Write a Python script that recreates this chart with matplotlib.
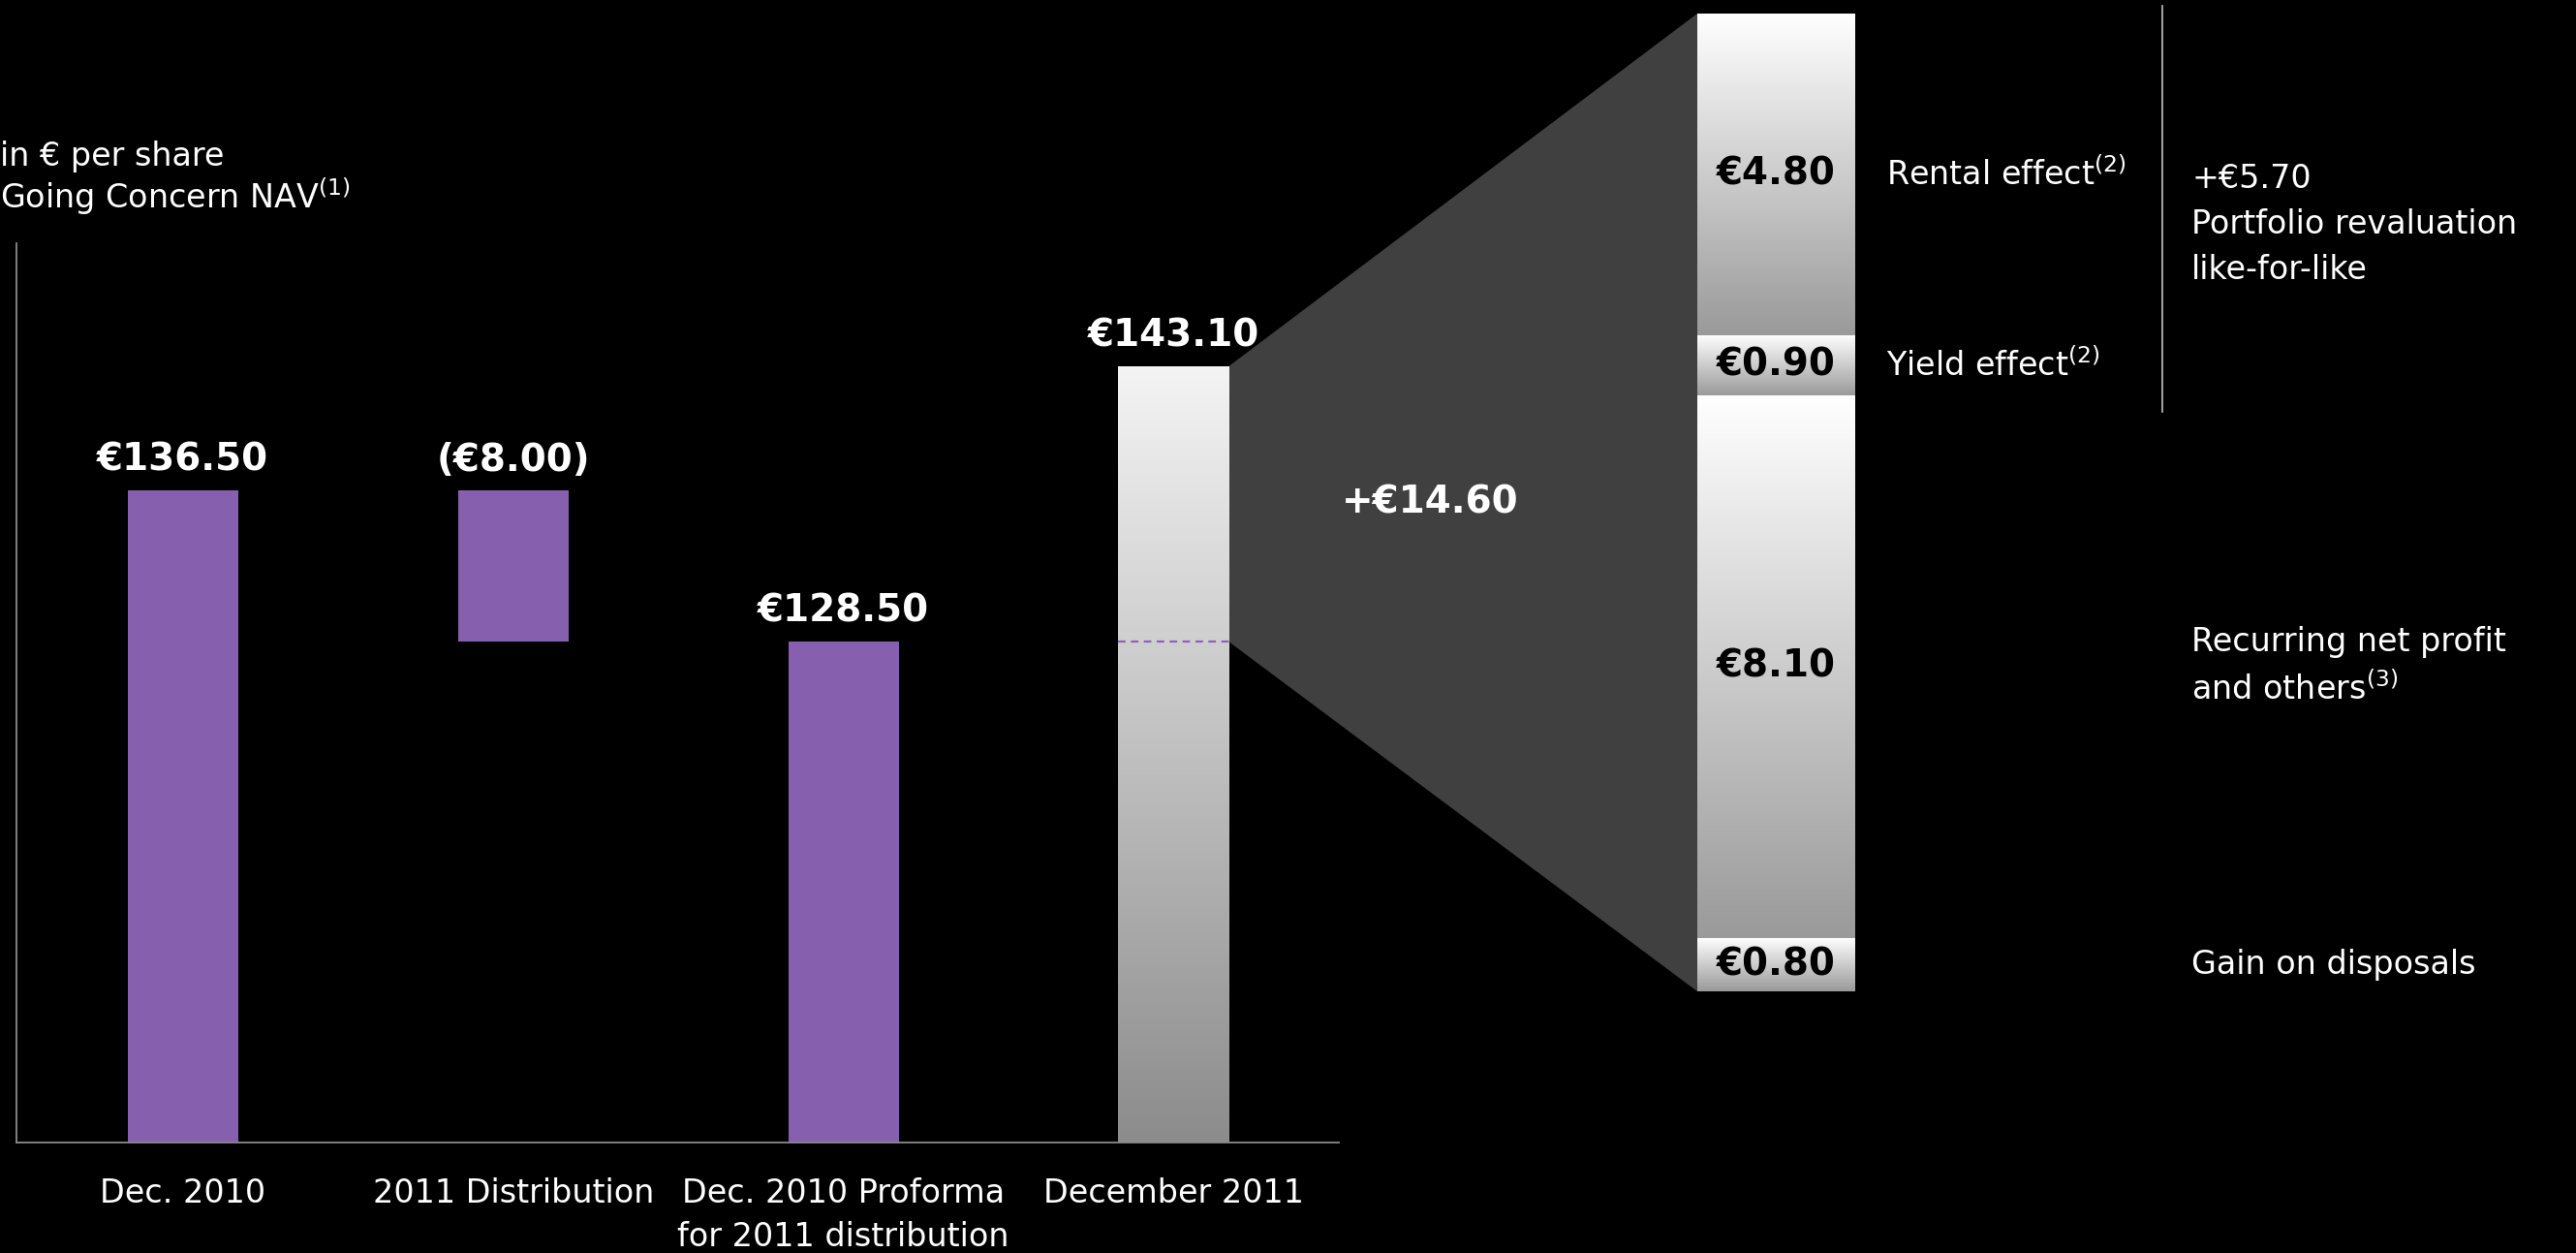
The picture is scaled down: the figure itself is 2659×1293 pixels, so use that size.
import numpy as np
import matplotlib
matplotlib.use("Agg")
import matplotlib.pyplot as plt
from matplotlib.patches import Polygon
from matplotlib.colors import LinearSegmentedColormap
from matplotlib.transforms import blended_transform_factory

plt.rcParams['font.family'] = ['DejaVu Sans']
plt.rcParams['mathtext.default'] = 'regular'

# NAV bridge, in euro per share
categories = ["Dec. 2010", "2011 Distribution",
              "Dec. 2010 Proforma\nfor 2011 distribution", "December 2011"]
nav_dec2010 = 136.50
distribution_2011 = -8.00
nav_proforma = 128.50
nav_dec2011 = 143.10
bar_labels = ["€136.50", "(€8.00)", "€128.50", "€143.10"]

# breakdown of the change, bottom to top
bridge_values = [0.80, 8.10, 0.90, 4.80]
bridge_labels = ["€0.80", "€8.10", "€0.90", "€4.80"]
bridge_texts = ["Gain on disposals", "Recurring net profit\nand others$^{(3)}$",
                "Yield effect$^{(2)}$", "Rental effect$^{(2)}$"]
revaluation_total = 5.70
change_total = 14.60

W, H = 2659, 1293
PURPLE = '#865FAE'
fig = plt.figure(figsize=(W / 100, H / 100), dpi=100, facecolor='black')


def fig_rect(left, top, right, bottom):
    return [left / W, 1 - bottom / H, (right - left) / W, (bottom - top) / H]


grey_fade = LinearSegmentedColormap.from_list('fade', ['#8C8C8C', '#F4F4F4'])
white_fade = LinearSegmentedColormap.from_list('wfade', ['#9A9A9A', '#FFFFFF'])
grad = np.linspace(0, 1, 256).reshape(-1, 1)


def gradient_bar(ax, patch, cmap, y0, y1):
    x0 = patch.get_x()
    x1 = x0 + patch.get_width()
    im = ax.imshow(grad, extent=[x0, x1, y0, y1], origin='lower', aspect='auto',
                   cmap=cmap, zorder=patch.get_zorder() + 0.1)
    im.set_clip_path(patch)


# main waterfall
ax = fig.add_axes(fig_rect(17, 251, 1382, 1179))
ax.set_facecolor('none')
x = np.arange(len(categories))
width = 0.335
ylo, yhi = 102.0, 149.6

ax.bar(x[0], nav_dec2010, width=width, color=PURPLE)
ax.bar(x[1], -distribution_2011, bottom=nav_proforma, width=width, color=PURPLE)
ax.bar(x[2], nav_proforma, width=width, color=PURPLE)
last = ax.bar(x[3], nav_dec2011, width=width, color='none')[0]
gradient_bar(ax, last, grey_fade, ylo, nav_dec2011)
ax.plot([x[3] - width / 2, x[3] + width / 2], [nav_proforma] * 2,
        color='#8A63B8', lw=1.6, ls=(0, (3.5, 2.5)), zorder=3)

tops = [nav_dec2010, nav_dec2010, nav_proforma, nav_dec2011]
for xi, top, lab in zip(x, tops, bar_labels):
    ax.annotate(lab, (xi, top), xytext=(0, 9), textcoords='offset points',
                ha='center', va='bottom', color='white', fontsize=28, fontweight='bold')

ax.set_xlim(-0.504, 3.5)
ax.set_ylim(ylo, yhi)
ax.set_xticks(x)
ax.set_xticklabels(categories, fontsize=24, color='white', linespacing=1.45)
ax.tick_params(axis='x', length=0, pad=26)
ax.set_yticks([])
for s in ['top', 'right']:
    ax.spines[s].set_visible(False)
for s in ['left', 'bottom']:
    ax.spines[s].set_color('#8A8A8A')
    ax.spines[s].set_linewidth(1.3)

# stacked breakdown on the right
ax2 = fig.add_axes(fig_rect(1752, 14, 1915, 1023))
ax2.set_facecolor('none')
ax2.set_xlim(0, 1)
ax2.set_ylim(0, sum(bridge_values))
ax2.axis('off')
bottoms = np.concatenate([[0], np.cumsum(bridge_values)[:-1]])
segs = ax2.bar(0.5, bridge_values, bottom=bottoms, width=1, color='none')
for p, b, v, lab in zip(segs, bottoms, bridge_values, bridge_labels):
    gradient_bar(ax2, p, white_fade, b, b + v)
    ax2.text(0.5, b + v / 2, lab, ha='center', va='center', color='black',
             fontsize=28, fontweight='bold', zorder=5)

# zoom wedge joining the last bar to the breakdown
fig.canvas.draw()
to_fig = fig.transFigure.inverted()
edge = x[3] + width / 2
p1 = to_fig.transform(ax.transData.transform((edge, nav_dec2011)))
p2 = to_fig.transform(ax.transData.transform((edge, nav_proforma)))
p3 = to_fig.transform(ax2.transData.transform((0, 0)))
p4 = to_fig.transform(ax2.transData.transform((0, sum(bridge_values))))
fig.add_artist(Polygon([p1, p4, p3, p2], closed=True, facecolor='#404040',
                       edgecolor='none', transform=fig.transFigure, zorder=-1))
fig.text(1476 / W, 1 - 519 / H, f"+€{change_total:.2f}", ha='center', va='center',
         color='white', fontsize=28, fontweight='bold')

# descriptions of each component
side = blended_transform_factory(fig.transFigure, ax2.transData)
for b, v, txt in zip(bottoms, bridge_values, bridge_texts):
    xpos = 1947 / W if 'effect' in txt else 2262 / W
    ax2.text(xpos, b + v / 2, txt, transform=side, ha='left', va='center',
             color='white', fontsize=24, linespacing=1.5)

reval_lo = bottoms[2]
reval_hi = bottoms[3] + bridge_values[3]
ax2.plot([2232 / W] * 2, [reval_lo - 0.25, reval_hi + 0.12], transform=side,
         color='#BFBFBF', lw=1.2, clip_on=False)
ax2.text(2262 / W, (reval_lo + reval_hi) / 2 - 0.3,
         f"+€{revaluation_total:.2f}\nPortfolio revaluation\nlike-for-like",
         transform=side, ha='left', va='center', color='white', fontsize=24,
         linespacing=1.55)

fig.text(0.0, 1 - 161 / H, "in € per share", ha='left', va='center',
         color='white', fontsize=24)
fig.text(0.0, 1 - 203 / H, "Going Concern NAV$^{(1)}$", ha='left', va='center',
         color='white', fontsize=24)

fig.savefig('out.png', dpi=100, facecolor='black')
